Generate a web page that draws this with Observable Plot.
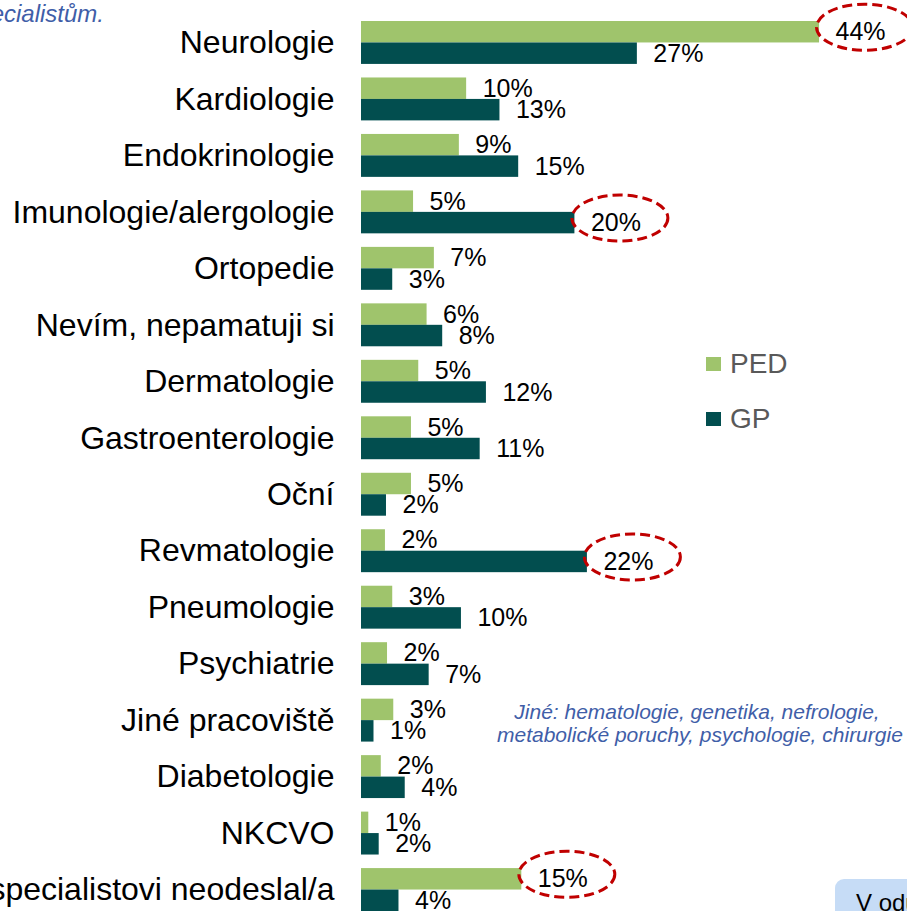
<!DOCTYPE html>
<html>
<head>
<meta charset="utf-8">
<script src="https://cdn.jsdelivr.net/npm/d3@7"></script>
<script src="https://cdn.jsdelivr.net/npm/@observablehq/plot@0.6"></script>
<style>
  html, body { margin: 0; padding: 0; overflow: hidden; background: #fff; }
  body { width: 907px; height: 911px; position: relative; font-family: "Liberation Sans", Arial, sans-serif; }
  #chart { position: absolute; left: 0; top: 0; }
  .note { position: absolute; color: #3f5ea8; font-style: italic; font-size: 21px; white-space: nowrap; }
  .legend { position: absolute; left: 706px; color: #595959; font-size: 28px; line-height: 28px; }
  .legend span.sw { display: inline-block; width: 15px; height: 14px; margin-right: 9px; vertical-align: 2px; }
  .box { position: absolute; left: 835px; top: 879px; width: 200px; height: 60px; background: #c6dcf6; border-radius: 9px; box-sizing: border-box; padding: 12px 0 0 21px; font-size: 24px; line-height: 24px; color: #000; white-space: nowrap; }
</style>
</head>
<body>
<div id="chart"></div>
<script>
// ---- data ----
const categories = [
  "Neurologie", "Kardiologie", "Endokrinologie", "Imunologie/alergologie", "Ortopedie",
  "Nevím, nepamatuji si", "Dermatologie", "Gastroenterologie", "Oční", "Revmatologie",
  "Pneumologie", "Psychiatrie", "Jiné pracoviště", "Diabetologie", "NKCVO",
  "specialistovi neodeslal/a"
];
const seriesNames = ["PED", "GP"];
const pedValues = [44.0, 10.1, 9.4, 5.0, 7.0, 6.3, 5.5, 4.8, 4.8, 2.3, 3.0, 2.5, 3.1, 1.9, 0.7, 15.4];
const gpValues  = [26.5, 13.3, 15.1, 20.5, 3.0, 7.8, 12.0, 11.4, 2.4, 21.7, 9.6, 6.5, 1.2, 4.2, 1.7, 3.6];
const pedLabels = ["44%","10%","9%","5%","7%","6%","5%","5%","5%","2%","3%","2%","3%","2%","1%","15%"];
const gpLabels  = ["27%","13%","15%","20%","3%","8%","12%","11%","2%","22%","10%","7%","1%","4%","2%","4%"];
const highlighted = [
  ["Neurologie", "PED"],
  ["Imunologie/alergologie", "GP"],
  ["Revmatologie", "GP"],
  ["specialistovi neodeslal/a", "PED"]
];
const noteLines = ["Jiné: hematologie, genetika, nefrologie,", "metabolické poruchy, psychologie, chirurgie"];

// ---- build table ----
const rows = [];
categories.forEach((c, i) => {
  rows.push({cat: c, series: "PED", value: pedValues[i], label: pedLabels[i]});
  rows.push({cat: c, series: "GP", value: gpValues[i], label: gpLabels[i]});
});
const marked = rows.filter(r => highlighted.some(([c, s]) => c === r.cat && s === r.series));

const ellipseSymbol = {
  draw(ctx, size) {
    const r = Math.sqrt(size / Math.PI);
    const rx = r, ry = r * 0.48, k = 0.5523;
    ctx.moveTo(rx, 0);
    ctx.bezierCurveTo(rx, ry * k, rx * k, ry, 0, ry);
    ctx.bezierCurveTo(-rx * k, ry, -rx, ry * k, -rx, 0);
    ctx.bezierCurveTo(-rx, -ry * k, -rx * k, -ry, 0, -ry);
    ctx.bezierCurveTo(rx * k, -ry, rx, -ry * k, rx, 0);
    ctx.closePath();
  }
};

const chart = Plot.plot({
  width: 907,
  height: 911,
  marginLeft: 361,
  marginRight: 25.5,
  marginTop: 21,
  marginBottom: 0,
  style: {fontFamily: "'Liberation Sans', Arial, sans-serif", fontSize: "32px", color: "#000", background: "transparent", overflow: "visible"},
  x: {domain: [0, 50], axis: null},
  y: {domain: seriesNames, axis: null, padding: 0, round: false},
  fy: {domain: categories, axis: "left", label: null, tickSize: 0, tickPadding: 27, paddingInner: 0.24, paddingOuter: 0, round: false},
  color: {domain: seriesNames, range: ["#9fc46c", "#024e4f"]},
  marks: [
    Plot.barX(rows, {fy: "cat", y: "series", x: "value", fill: "series"}),
    Plot.text(rows, {fy: "cat", y: "series", x: "value", text: "label", dx: 16, textAnchor: "start", fontSize: 25, fill: "#000"}),
    Plot.dot(marked, {fy: "cat", y: "series", x: "value", dx: 45, dy: -5, r: 48, symbol: ellipseSymbol, fill: "none", stroke: "#c00000", strokeWidth: 3, strokeDasharray: "10,5"})
  ]
});
document.getElementById("chart").appendChild(chart);

// ---- extra text ----
const topNote = document.createElement("div");
topNote.className = "note";
topNote.style.cssText = "left:-200px;width:304px;text-align:right;top:2px;line-height:24px;font-size:24px;";
topNote.textContent = "specialistům.";
document.body.appendChild(topNote);

noteLines.forEach((t, i) => {
  const d = document.createElement("div");
  d.className = "note";
  d.style.cssText = `left:497px;width:400px;text-align:center;top:${700 + i * 22.5}px;line-height:24px;`;
  d.textContent = t;
  document.body.appendChild(d);
});

const legendColors = {PED: "#9fc46c", GP: "#024e4f"};
seriesNames.forEach((s, i) => {
  const d = document.createElement("div");
  d.className = "legend";
  d.style.top = (350 + i * 55) + "px";
  d.innerHTML = `<span class="sw" style="background:${legendColors[s]}"></span>${s}`;
  document.body.appendChild(d);
});

const box = document.createElement("div");
box.className = "box";
box.textContent = "V odůvodněných";
document.body.appendChild(box);
</script>
</body>
</html>
